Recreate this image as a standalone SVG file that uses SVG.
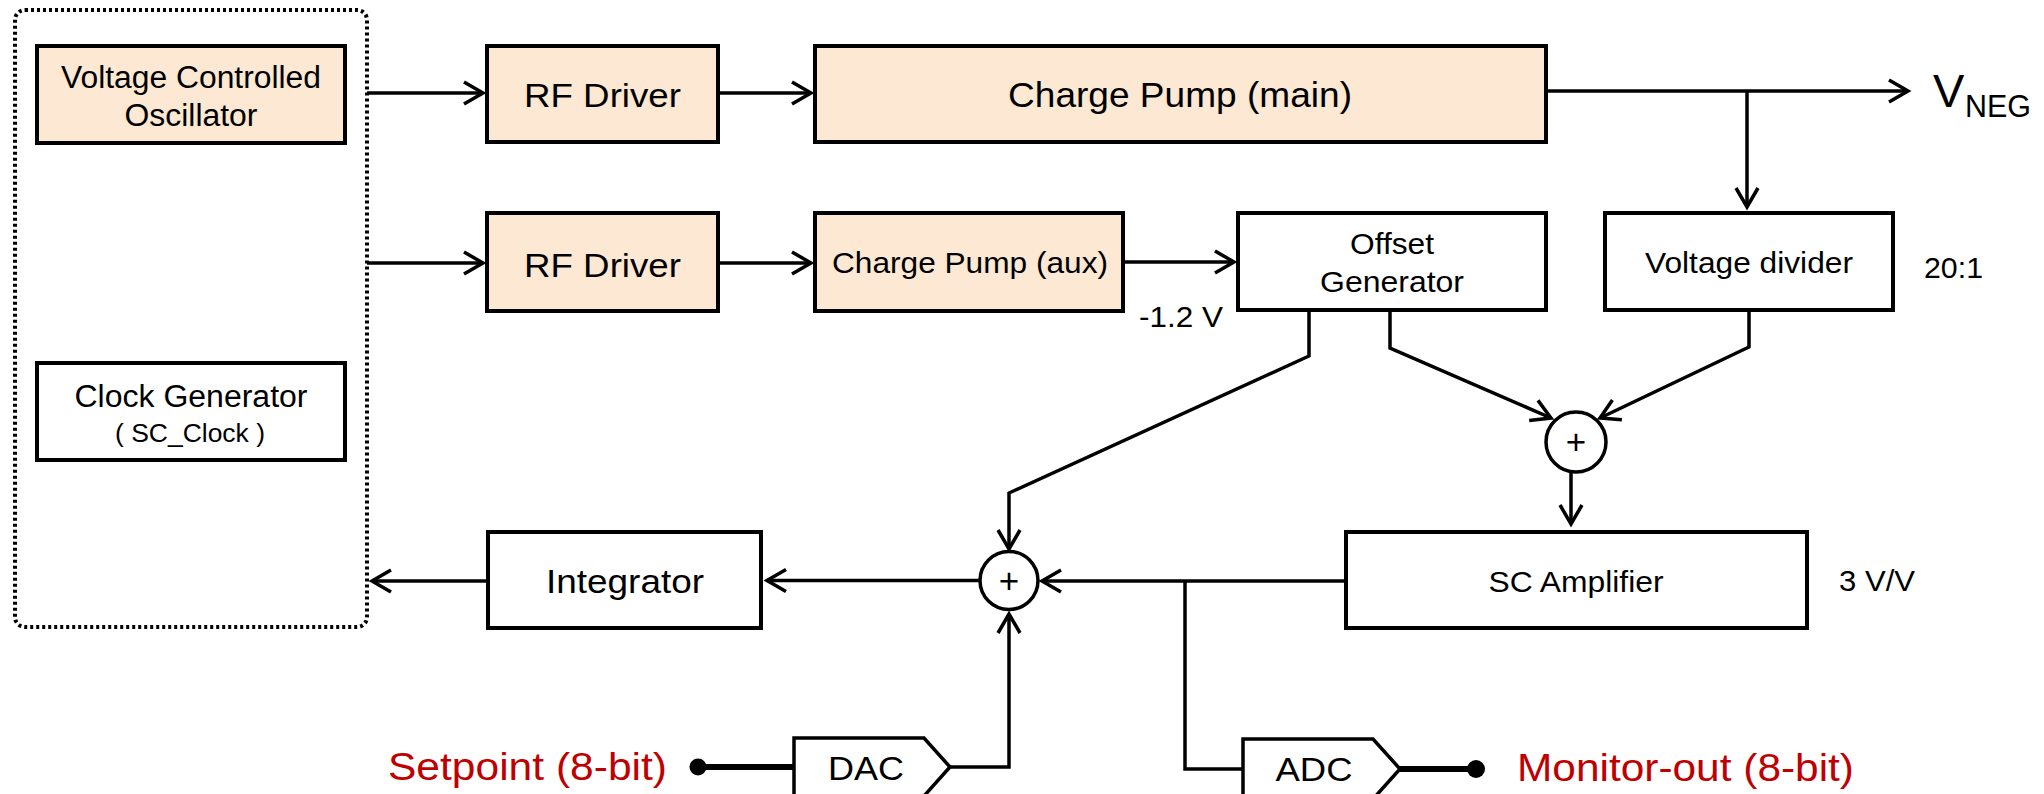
<svg xmlns="http://www.w3.org/2000/svg" width="2044" height="794" viewBox="0 0 2044 794">
<style>
.box{fill:#fff;stroke:#000;stroke-width:4}
.fill{fill:#FCE8D3;stroke:#000;stroke-width:4}
.t{font-family:"Liberation Sans",Arial,sans-serif;fill:#000;text-anchor:middle}
.ts{font-family:"Liberation Sans",Arial,sans-serif;fill:#000}
.red{font-family:"Liberation Sans",Arial,sans-serif;fill:#C00000}
.ln{fill:none;stroke:#000;stroke-width:3.5}
.arr{marker-end:url(#ah)}
.thick{fill:none;stroke:#000;stroke-width:6}
</style>
<defs>
<marker id="ah" markerUnits="userSpaceOnUse" viewBox="0 0 24 26" refX="21" refY="13" markerWidth="24" markerHeight="26" orient="auto" overflow="visible">
<path d="M2,2 L21,13 L2,24" fill="none" stroke="#000" stroke-width="3.5"/>
</marker>
</defs>
<rect width="2044" height="794" fill="#fff"/>

<g id="controller">
<rect x="15" y="10" width="352" height="617" rx="10" fill="none" stroke="#000" stroke-width="4" stroke-dasharray="3 3"/>
</g>
<g id="vco">
<rect class="fill" x="37" y="46" width="308" height="97"/>
<text class="t" x="191" y="88" font-size="31" textLength="260" lengthAdjust="spacingAndGlyphs">Voltage Controlled</text>
<text class="t" x="191" y="126" font-size="31" textLength="133" lengthAdjust="spacingAndGlyphs">Oscillator</text>
</g>
<g id="clock">
<rect class="box" x="37" y="363" width="308" height="97"/>
<text class="t" x="191" y="407" font-size="31" textLength="233" lengthAdjust="spacingAndGlyphs">Clock Generator</text>
<text class="t" x="190" y="442" font-size="25" textLength="150" lengthAdjust="spacingAndGlyphs">( SC_Clock )</text>
</g>
<g id="rf1">
<rect class="fill" x="487" y="46" width="231" height="96"/>
<text class="t" x="602.5" y="107" font-size="34" textLength="157" lengthAdjust="spacingAndGlyphs">RF Driver</text>
</g>
<g id="cpmain">
<rect class="fill" x="815" y="46" width="731" height="96"/>
<text class="t" x="1180" y="107" font-size="35" textLength="344" lengthAdjust="spacingAndGlyphs">Charge Pump (main)</text>
</g>
<g id="rf2">
<rect class="fill" x="487" y="213" width="231" height="98"/>
<text class="t" x="602.5" y="277" font-size="34" textLength="157" lengthAdjust="spacingAndGlyphs">RF Driver</text>
</g>
<g id="cpaux">
<rect class="fill" x="815" y="213" width="308" height="98"/>
<text class="t" x="970" y="273" font-size="30" textLength="276" lengthAdjust="spacingAndGlyphs">Charge Pump (aux)</text>
<text class="ts" x="1139" y="327" font-size="30" textLength="84" lengthAdjust="spacingAndGlyphs">-1.2 V</text>
</g>
<g id="offset">
<rect class="box" x="1238" y="213" width="308" height="97"/>
<text class="t" x="1392" y="254" font-size="29" textLength="84" lengthAdjust="spacingAndGlyphs">Offset</text>
<text class="t" x="1392" y="292" font-size="29" textLength="144" lengthAdjust="spacingAndGlyphs">Generator</text>
</g>
<g id="divider">
<rect class="box" x="1605" y="213" width="288" height="97"/>
<text class="t" x="1749" y="273" font-size="30" textLength="208" lengthAdjust="spacingAndGlyphs">Voltage divider</text>
<text class="ts" x="1924" y="278" font-size="30" textLength="59" lengthAdjust="spacingAndGlyphs">20:1</text>
</g>
<g id="vneg">
<text class="ts" x="1933" y="107" font-size="47">V</text>
<text class="ts" x="1965" y="117" font-size="31" textLength="66" lengthAdjust="spacingAndGlyphs">NEG</text>
</g>
<g id="sum2">
<circle cx="1576" cy="442" r="30" fill="#fff" stroke="#000" stroke-width="3.5"/>
<text class="t" x="1576" y="454" font-size="35">+</text>
</g>
<g id="scamp">
<rect class="box" x="1346" y="532" width="461" height="96"/>
<text class="t" x="1576" y="592" font-size="29" textLength="175" lengthAdjust="spacingAndGlyphs">SC Amplifier</text>
<text class="ts" x="1839" y="591" font-size="29" textLength="76" lengthAdjust="spacingAndGlyphs">3 V/V</text>
</g>
<g id="sum1">
<circle cx="1009" cy="580.5" r="29" fill="#fff" stroke="#000" stroke-width="3.5"/>
<text class="t" x="1009" y="592.5" font-size="35">+</text>
</g>
<g id="integrator">
<rect class="box" x="488" y="532" width="273" height="96"/>
<text class="t" x="625" y="593" font-size="34" textLength="158" lengthAdjust="spacingAndGlyphs">Integrator</text>
</g>
<g id="dac">
<path d="M794,738 H924 L950,767 L924,796 H794 Z" fill="#fff" stroke="#000" stroke-width="3.5"/>
<text class="t" x="866" y="780" font-size="33" textLength="76" lengthAdjust="spacingAndGlyphs">DAC</text>
</g>
<g id="adc">
<path d="M1243,739 H1373 L1400,769 L1373,799 H1243 Z" fill="#fff" stroke="#000" stroke-width="3.5"/>
<text class="t" x="1314" y="781" font-size="33" textLength="77" lengthAdjust="spacingAndGlyphs">ADC</text>
</g>
<g id="setpoint">
<circle cx="698" cy="767" r="8.5" fill="#000"/>
<text class="red" x="388" y="780" font-size="38" textLength="279" lengthAdjust="spacingAndGlyphs">Setpoint (8-bit)</text>
</g>
<g id="monitor">
<circle cx="1476" cy="769" r="9" fill="#000"/>
<text class="red" x="1517" y="781" font-size="38" textLength="337" lengthAdjust="spacingAndGlyphs">Monitor-out (8-bit)</text>
</g>

<g id="connectors">
<path class="ln arr" d="M367,93 H483"/>
<path class="ln arr" d="M718,93 H811"/>
<path class="ln arr" d="M1546,91 H1908"/>
<path class="ln arr" d="M1747,91 V207"/>
<path class="ln arr" d="M367,263 H483"/>
<path class="ln arr" d="M718,263 H811"/>
<path class="ln arr" d="M1123,262 H1234"/>
<path class="ln arr" d="M1309,311 V356 L1009,493 V549"/>
<path class="ln arr" d="M1390,311 V348 L1551,418"/>
<path class="ln arr" d="M1749,311 V347 L1600,418"/>
<path class="ln arr" d="M1571,472 V524"/>
<path class="ln arr" d="M1346,581 H1042"/>
<path class="ln arr" d="M980,580.5 H767"/>
<path class="ln arr" d="M488,581 H372"/>
<path class="ln" d="M1185,581 V769 H1243"/>
<path class="ln arr" d="M950,767 H1009 V614"/>
<path class="thick" d="M698,767 H794"/>
<path class="thick" d="M1400,769 H1476"/>
</g>
</svg>
